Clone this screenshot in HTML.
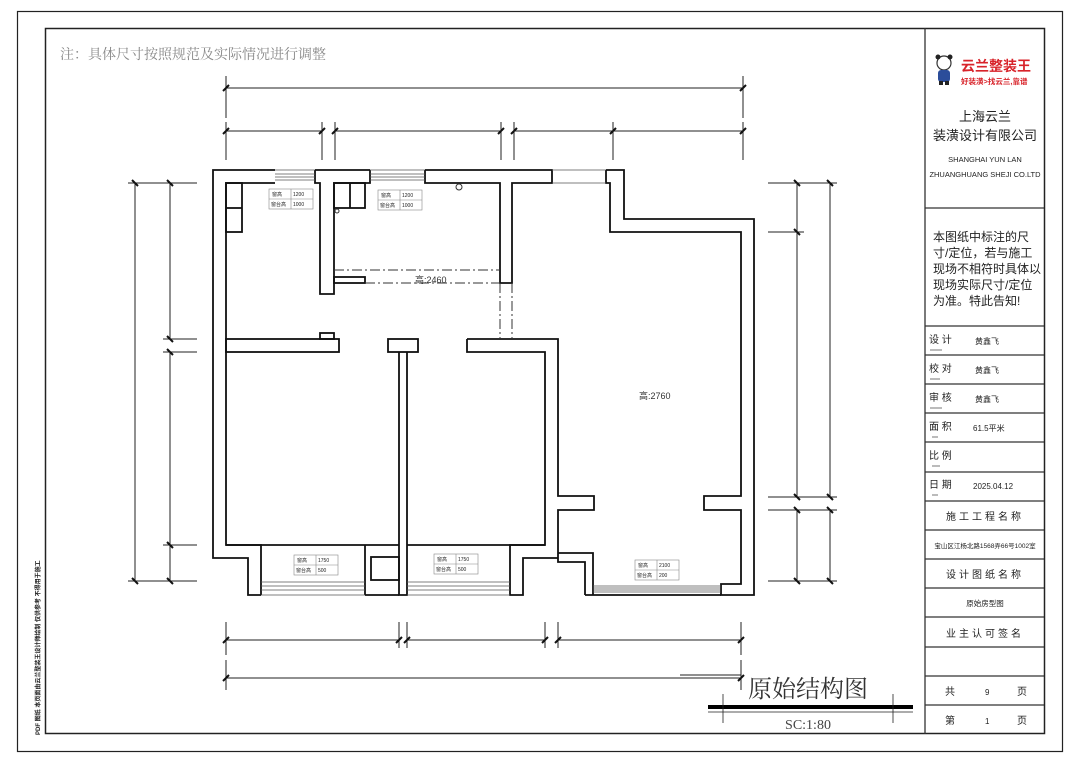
<!DOCTYPE html>
<html><head><meta charset="utf-8"><style>
html,body{margin:0;padding:0;background:#fff;width:1080px;height:760px;overflow:hidden}
svg{display:block}
.cj{font-family:"Liberation Sans","Noto Sans CJK SC",sans-serif}
.sf{font-family:"Liberation Serif","Noto Serif CJK SC",serif}
</style></head><body>
<svg width="1080" height="760" viewBox="0 0 1080 760" xmlns="http://www.w3.org/2000/svg">
<rect x="0" y="0" width="1080" height="760" fill="#fff"/>
<!-- frames -->
<rect x="17.5" y="11.5" width="1045" height="740" fill="none" stroke="#222" stroke-width="1.2"/>
<rect x="45.5" y="28.5" width="999" height="705" fill="none" stroke="#222" stroke-width="1.5"/>
<text x="60" y="59" class="sf" font-size="14" fill="#888">注：具体尺寸按照规范及实际情况进行调整</text>
<text transform="translate(40,735) rotate(-90)" class="cj" font-size="6" fill="#222" font-weight="bold">PDF 图纸 本页面由云兰整装王设计师绘制 仅供参考 不得用于施工</text>

<!-- title block -->
<g stroke="#333" stroke-width="1.3" fill="none">
<line x1="925" y1="28" x2="925" y2="734"/>
<line x1="925" y1="208" x2="1044" y2="208"/>
<line x1="925" y1="326" x2="1044" y2="326"/>
<line x1="925" y1="355" x2="1044" y2="355"/>
<line x1="925" y1="384" x2="1044" y2="384"/>
<line x1="925" y1="413" x2="1044" y2="413"/>
<line x1="925" y1="442" x2="1044" y2="442"/>
<line x1="925" y1="472" x2="1044" y2="472"/>
<line x1="925" y1="501" x2="1044" y2="501"/>
<line x1="925" y1="530" x2="1044" y2="530"/>
<line x1="925" y1="559" x2="1044" y2="559"/>
<line x1="925" y1="588" x2="1044" y2="588"/>
<line x1="925" y1="617" x2="1044" y2="617"/>
<line x1="925" y1="647" x2="1044" y2="647"/>
<line x1="925" y1="676" x2="1044" y2="676"/>
<line x1="925" y1="705" x2="1044" y2="705"/>
</g>
<!-- logo -->
<g>
<circle cx="944" cy="63" r="7" fill="#fff" stroke="#333" stroke-width="1.2"/>
<circle cx="938" cy="57" r="2.5" fill="#222"/><circle cx="950" cy="57" r="2.5" fill="#222"/>
<rect x="938" y="70" width="12" height="12" rx="3" fill="#2b4d9a"/>
<rect x="939" y="81" width="4" height="4" fill="#222"/><rect x="945" y="81" width="4" height="4" fill="#222"/>
</g>
<text x="961" y="71" class="cj" font-size="14" font-weight="bold" fill="#d8232a">云兰整装王</text>
<text x="961" y="84" class="cj" font-size="7.5" font-weight="bold" fill="#d8232a">好装潢&gt;找云兰,靠谱</text>
<text x="985" y="121" text-anchor="middle" class="cj" font-size="13" fill="#222">上海云兰</text>
<text x="985" y="140" text-anchor="middle" class="cj" font-size="13" fill="#222">装潢设计有限公司</text>
<text x="985" y="162" text-anchor="middle" font-family="Liberation Sans" font-size="7.5" fill="#222">SHANGHAI YUN LAN</text>
<text x="985" y="177" text-anchor="middle" font-family="Liberation Sans" font-size="7.5" fill="#222">ZHUANGHUANG SHEJI CO.LTD</text>
<g class="cj" font-size="12" fill="#222">
<text x="933" y="241">本图纸中标注的尺</text>
<text x="933" y="257">寸/定位，若与施工</text>
<text x="933" y="273">现场不相符时具体以</text>
<text x="933" y="289">现场实际尺寸/定位</text>
<text x="933" y="305">为准。特此告知!</text>
</g>
<g class="cj" font-size="10" fill="#222">
<text x="929" y="343">设 计</text><text x="975" y="344" font-size="8">黄鑫飞</text>
<text x="929" y="372">校 对</text><text x="975" y="373" font-size="8">黄鑫飞</text>
<text x="929" y="401">审 核</text><text x="975" y="402" font-size="8">黄鑫飞</text>
<text x="929" y="430">面 积</text><text x="973" y="431" font-size="8">61.5平米</text>
<text x="929" y="459">比 例</text>
<text x="929" y="488">日 期</text><text x="973" y="489" font-size="8">2025.04.12</text>
<text x="985" y="520" text-anchor="middle" letter-spacing="3">施工工程名称</text>
<text x="985" y="548" text-anchor="middle" font-size="6.5">宝山区江杨北路1568弄66号1002室</text>
<text x="985" y="578" text-anchor="middle" letter-spacing="3">设计图纸名称</text>
<text x="985" y="606" text-anchor="middle" font-size="7.5">原始房型图</text>
<text x="985" y="637" text-anchor="middle" letter-spacing="3">业主认可签名</text>
<text x="945" y="695">共</text><text x="985" y="695" font-size="8">9</text><text x="1017" y="695">页</text>
<text x="945" y="724">第</text><text x="985" y="724" font-size="8">1</text><text x="1017" y="724">页</text>
</g>
<g fill="#bbb"><rect x="930" y="349" width="12" height="2"/><rect x="930" y="378" width="10" height="2"/><rect x="930" y="407" width="12" height="2"/><rect x="932" y="436" width="6" height="2"/><rect x="932" y="465" width="8" height="2"/><rect x="932" y="494" width="6" height="2"/></g>

<!-- plan walls -->
<g fill="none" stroke="#111" stroke-width="1.8">
<!-- outer left/top -->
<polyline points="275,170 213,170 213,558 248,558 248,595 261,595"/>
<polyline points="275,183 226,183 226,545 261,545 261,595"/>
<line x1="315" y1="170" x2="370" y2="170"/>
<polyline points="315,170 315,183 320,183 320,294 334,294 334,183 370,183 370,170"/>
<polyline points="425,170 552,170 552,183 512,183 512,283 500,283 500,183 425,183 425,170"/>
<polyline points="606,170 624,170 624,219 754,219 754,595 721,595 721,584 741,584 741,510 704,510 704,496 741,496 741,232 610,232 610,183 606,183 606,170"/>
<!-- left room divider -->
<rect x="226" y="339" width="113" height="13"/>
<rect x="320" y="333" width="14" height="6"/>
<rect x="388" y="339" width="30" height="13"/>
<polyline points="399,352 399,595 407,595 407,352"/>
<polyline points="467,339 558,339 558,496 594,496 594,510 558,510 558,562 585,562 585,595"/>
<polyline points="467,339 467,352 545,352 545,545 510,545 510,595 523,595 523,558 558,558"/>
<polyline points="558,553 593,553 593,595"/>
<line x1="226" y1="545" x2="399" y2="545"/>
<line x1="407" y1="545" x2="545" y2="545"/>
<polyline points="365,595 365,545"/>
<rect x="371" y="557" width="28" height="23"/>
<line x1="365" y1="595" x2="399" y2="595"/>
<line x1="585" y1="595" x2="721" y2="595"/>
<!-- cabinets -->
<rect x="226" y="183" width="16" height="49"/>
<line x1="226" y1="208" x2="242" y2="208"/>
<rect x="334" y="183" width="31" height="25"/>
<line x1="350" y1="183" x2="350" y2="208"/>
<rect x="334" y="277" width="31" height="6"/>
</g>
<circle cx="459" cy="187" r="3" fill="none" stroke="#333" stroke-width="1"/>
<circle cx="337" cy="211" r="2" fill="none" stroke="#333" stroke-width="1"/>
<!-- windows -->
<g stroke="#555" stroke-width="0.8">
<line x1="275" y1="174" x2="315" y2="174"/><line x1="275" y1="177" x2="315" y2="177"/><line x1="275" y1="180" x2="315" y2="180"/><line x1="275" y1="170" x2="315" y2="170"/>
<line x1="370" y1="174" x2="425" y2="174"/><line x1="370" y1="177" x2="425" y2="177"/><line x1="370" y1="180" x2="425" y2="180"/><line x1="370" y1="170" x2="425" y2="170"/>
<line x1="552" y1="170" x2="606" y2="170"/><line x1="552" y1="183" x2="606" y2="183"/>
<line x1="261" y1="582" x2="365" y2="582"/><line x1="261" y1="586" x2="365" y2="586"/><line x1="261" y1="590" x2="365" y2="590"/><line x1="261" y1="595" x2="365" y2="595"/>
<line x1="407" y1="582" x2="510" y2="582"/><line x1="407" y1="586" x2="510" y2="586"/><line x1="407" y1="590" x2="510" y2="590"/><line x1="407" y1="595" x2="510" y2="595"/>
<line x1="593" y1="586" x2="721" y2="586"/><line x1="593" y1="588" x2="721" y2="588"/><line x1="593" y1="590" x2="721" y2="590"/><line x1="593" y1="592" x2="721" y2="592"/>
</g>
<!-- dash -->
<g stroke="#333" stroke-width="1" stroke-dasharray="10,3,2,3" fill="none">
<line x1="334" y1="270" x2="500" y2="270"/>
<line x1="365" y1="283" x2="500" y2="283"/>
<line x1="500" y1="283" x2="500" y2="339"/>
<line x1="512" y1="283" x2="512" y2="339"/>
</g>
<text x="415" y="283" class="cj" font-size="9" fill="#333">高:2460</text>
<text x="639" y="399" class="cj" font-size="9" fill="#333">高:2760</text>
<!-- window label boxes -->
<g class="cj" font-size="5" fill="#222">
<g transform="translate(269,189)"><rect width="44" height="20" fill="#fff" stroke="#888" stroke-width="0.6"/><line x1="0" y1="10" x2="44" y2="10" stroke="#888" stroke-width="0.6"/><line x1="22" y1="0" x2="22" y2="20" stroke="#888" stroke-width="0.6"/><text x="3" y="7">窗高</text><text x="24" y="7">1200</text><text x="2" y="17">窗台高</text><text x="24" y="17">1000</text></g>
<g transform="translate(378,190)"><rect width="44" height="20" fill="#fff" stroke="#888" stroke-width="0.6"/><line x1="0" y1="10" x2="44" y2="10" stroke="#888" stroke-width="0.6"/><line x1="22" y1="0" x2="22" y2="20" stroke="#888" stroke-width="0.6"/><text x="3" y="7">窗高</text><text x="24" y="7">1200</text><text x="2" y="17">窗台高</text><text x="24" y="17">1000</text></g>
<g transform="translate(294,555)"><rect width="44" height="20" fill="#fff" stroke="#888" stroke-width="0.6"/><line x1="0" y1="10" x2="44" y2="10" stroke="#888" stroke-width="0.6"/><line x1="22" y1="0" x2="22" y2="20" stroke="#888" stroke-width="0.6"/><text x="3" y="7">窗高</text><text x="24" y="7">1750</text><text x="2" y="17">窗台高</text><text x="24" y="17">500</text></g>
<g transform="translate(434,554)"><rect width="44" height="20" fill="#fff" stroke="#888" stroke-width="0.6"/><line x1="0" y1="10" x2="44" y2="10" stroke="#888" stroke-width="0.6"/><line x1="22" y1="0" x2="22" y2="20" stroke="#888" stroke-width="0.6"/><text x="3" y="7">窗高</text><text x="24" y="7">1750</text><text x="2" y="17">窗台高</text><text x="24" y="17">500</text></g>
<g transform="translate(635,560)"><rect width="44" height="20" fill="#fff" stroke="#888" stroke-width="0.6"/><line x1="0" y1="10" x2="44" y2="10" stroke="#888" stroke-width="0.6"/><line x1="22" y1="0" x2="22" y2="20" stroke="#888" stroke-width="0.6"/><text x="3" y="7">窗高</text><text x="24" y="7">2100</text><text x="2" y="17">窗台高</text><text x="24" y="17">200</text></g>
</g>

<!-- dimensions -->
<g stroke="#222" stroke-width="1" fill="none">
<!-- top -->
<line x1="226" y1="88" x2="743" y2="88"/>
<line x1="226" y1="76" x2="226" y2="118"/><line x1="743" y1="76" x2="743" y2="118"/>
<line x1="226" y1="131" x2="322" y2="131"/><line x1="335" y1="131" x2="501" y2="131"/><line x1="514" y1="131" x2="743" y2="131"/>
<line x1="226" y1="122" x2="226" y2="160"/><line x1="322" y1="122" x2="322" y2="160"/><line x1="335" y1="122" x2="335" y2="160"/><line x1="501" y1="122" x2="501" y2="160"/><line x1="514" y1="122" x2="514" y2="160"/><line x1="613" y1="122" x2="613" y2="160"/><line x1="743" y1="122" x2="743" y2="160"/>
<!-- left -->
<line x1="135" y1="183" x2="135" y2="581"/>
<line x1="170" y1="183" x2="170" y2="339"/><line x1="170" y1="352" x2="170" y2="581"/>
<line x1="128" y1="183" x2="197" y2="183"/><line x1="163" y1="339" x2="197" y2="339"/><line x1="163" y1="352" x2="197" y2="352"/><line x1="163" y1="545" x2="197" y2="545"/><line x1="128" y1="581" x2="197" y2="581"/>
<!-- right -->
<line x1="797" y1="183" x2="797" y2="497"/><line x1="797" y1="510" x2="797" y2="581"/>
<line x1="830" y1="183" x2="830" y2="497"/><line x1="830" y1="510" x2="830" y2="581"/>
<line x1="768" y1="183" x2="837" y2="183"/><line x1="768" y1="232" x2="804" y2="232"/><line x1="768" y1="497" x2="837" y2="497"/><line x1="768" y1="510" x2="837" y2="510"/><line x1="768" y1="581" x2="837" y2="581"/>
<!-- bottom -->
<line x1="226" y1="640" x2="399" y2="640"/><line x1="407" y1="640" x2="545" y2="640"/><line x1="558" y1="640" x2="741" y2="640"/>
<line x1="226" y1="622" x2="226" y2="655"/><line x1="399" y1="622" x2="399" y2="648"/><line x1="407" y1="622" x2="407" y2="648"/><line x1="545" y1="622" x2="545" y2="648"/><line x1="558" y1="622" x2="558" y2="648"/><line x1="741" y1="622" x2="741" y2="655"/>
<line x1="226" y1="678" x2="741" y2="678"/>
<line x1="226" y1="660" x2="226" y2="690"/><line x1="741" y1="660" x2="741" y2="690"/>
</g>
<g stroke="#111" stroke-width="2">
<path d="M223 91 l6 -6 M740 91 l6 -6 M223 134 l6 -6 M319 134 l6 -6 M332 134 l6 -6 M498 134 l6 -6 M511 134 l6 -6 M610 134 l6 -6 M740 134 l6 -6"/>
<path d="M132 180 l6 6 M132 578 l6 6 M167 180 l6 6 M167 336 l6 6 M167 349 l6 6 M167 542 l6 6 M167 578 l6 6"/>
<path d="M794 180 l6 6 M794 229 l6 6 M794 494 l6 6 M794 507 l6 6 M794 578 l6 6 M827 180 l6 6 M827 494 l6 6 M827 507 l6 6 M827 578 l6 6"/>
<path d="M223 643 l6 -6 M396 643 l6 -6 M404 643 l6 -6 M542 643 l6 -6 M555 643 l6 -6 M738 643 l6 -6 M223 681 l6 -6 M738 681 l6 -6"/>
</g>

<!-- title -->
<polyline points="680,675 741,675 741,660" fill="none" stroke="#222" stroke-width="1"/>
<text x="808" y="697" text-anchor="middle" class="sf" font-size="24" fill="#333">原始结构图</text>
<rect x="708" y="705" width="205" height="4" fill="#000"/>
<line x1="708" y1="712" x2="913" y2="712" stroke="#222" stroke-width="0.8"/>
<line x1="723" y1="694" x2="723" y2="723" stroke="#222" stroke-width="0.8"/>
<line x1="893" y1="694" x2="893" y2="723" stroke="#222" stroke-width="0.8"/>
<text x="808" y="729" text-anchor="middle" font-family="Liberation Serif" font-size="14" fill="#444">SC:1:80</text>
</svg>
</body></html>
